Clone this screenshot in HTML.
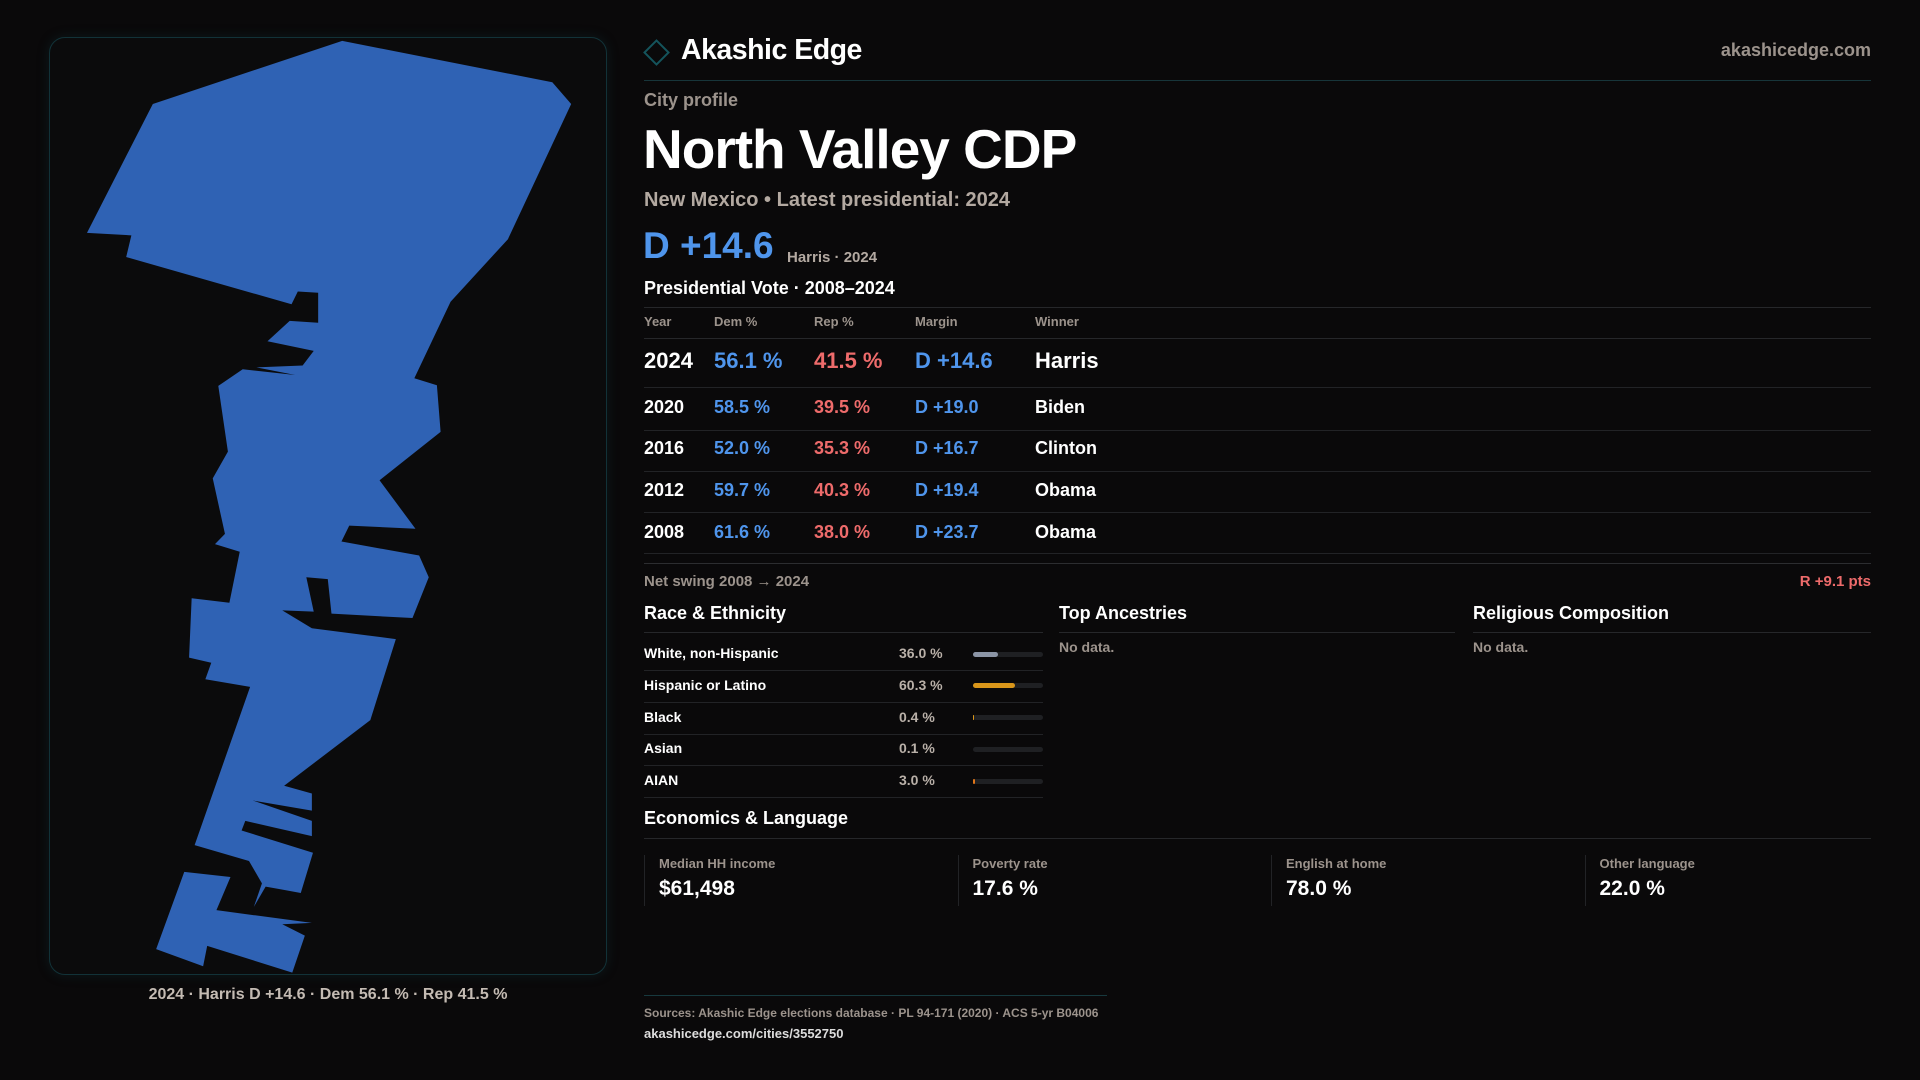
<!DOCTYPE html>
<html><head><meta charset="utf-8"><style>
*{margin:0;padding:0;box-sizing:border-box}
body{width:1920px;height:1080px;background:#0a090a;font-family:"Liberation Sans",sans-serif;color:#fff;position:relative;overflow:hidden}
.a{position:absolute;white-space:nowrap}
.hl{position:absolute;height:1px;background:#26272a}
.g{color:#9c938c}
.b{color:#4f95ec}.r{color:#ee6b6b}
</style></head><body>
<div class="a" style="left:49px;top:37px;width:558px;height:938px;border:1px solid #123238;border-radius:16px;background:#0b0b0c;box-shadow:0 0 12px rgba(20,70,80,.25)"></div>
<svg class="a" style="left:0;top:0" width="660" height="1000">
<g transform="translate(40,30) scale(0.3699,0.6378)" fill="#2f62b4">
<polygon points="817,17 1385,82 1436,116 1265,328 1110,426 1012,546 1073,557 1083,630 918,706 1015,782 836,777 815,802 1025,824 1051,858 1007,922 788,915 778,861 720,858 740,912 655,910 735,938 962,955 893,1082 660,1185 735,1197 735,1224 575,1208 735,1240 735,1264 555,1240 545,1255 738,1290 705,1353 610,1343 578,1375 600,1338 565,1303 418,1278 568,1030 447,1018 463,992 403,984 410,891 512,898 540,818 473,806 500,790 467,703 508,661 482,558 548,532 690,541 585,529 710,526 740,503 615,488 675,456 752,459 752,412 697,410 680,430 233,356 247,322 127,318 305,116"/>
<polygon points="390,1320 515,1328 477,1380 735,1400 655,1402 716,1420 682,1478 452,1436 441,1468 314,1441"/>
</g></svg>
<div class="a" style="left:49px;width:558px;text-align:center;top:986px;font-size:16px;font-weight:bold;color:#c4bbb3">2024 · Harris D +14.6 · Dem 56.1 % · Rep 41.5 %</div>

<div class="a" style="left:647px;top:43px;width:19px;height:19px;border:2px solid #14545c;transform:rotate(45deg)"></div>
<div class="a" style="left:681px;top:34px;font-size:28.5px;font-weight:bold;letter-spacing:-0.5px">Akashic Edge</div>
<div class="a g" style="right:49px;top:40px;font-size:18px;font-weight:bold">akashicedge.com</div>
<div class="hl" style="left:644px;width:1227px;top:80px;background:#17353a"></div>
<div class="a g" style="left:644px;top:90px;font-size:18px;font-weight:bold">City profile</div>
<div class="a" style="left:643px;top:117px;font-size:55px;font-weight:bold;letter-spacing:-1px">North Valley CDP</div>
<div class="a" style="left:644px;top:189px;font-size:20px;font-weight:bold;color:#b3a9a1">New Mexico • Latest presidential: 2024</div>
<div class="a b" style="left:643px;top:225px;font-size:37px;font-weight:bold">D +14.6</div>
<div class="a" style="left:787px;top:249px;font-size:15px;font-weight:bold;color:#b3a9a1">Harris · 2024</div>
<div class="a" style="left:644px;top:278px;font-size:18px;font-weight:bold">Presidential Vote · 2008–2024</div>
<div class="hl" style="left:644px;width:1227px;top:307px"></div>
<div id="tbl"></div>
<div class="hl" style="left:644px;width:1227px;top:563px;background:#2c2d30"></div>
<div class="a g" style="left:644px;top:573px;font-size:15px;font-weight:bold">Net swing 2008 → 2024</div>
<div class="a r" style="right:49px;top:573px;font-size:15px;font-weight:bold">R +9.1 pts</div>

<div class="a" style="left:644px;top:603px;font-size:18px;font-weight:bold">Race &amp; Ethnicity</div>
<div class="a" style="left:1059px;top:603px;font-size:18px;font-weight:bold">Top Ancestries</div>
<div class="a" style="left:1473px;top:603px;font-size:18px;font-weight:bold">Religious Composition</div>
<div class="hl" style="left:644px;width:399px;top:632px"></div>
<div class="hl" style="left:1059px;width:396px;top:632px"></div>
<div class="hl" style="left:1473px;width:398px;top:632px"></div>
<div class="a g" style="left:1059px;top:639px;font-size:14px;font-weight:bold">No data.</div>
<div class="a g" style="left:1473px;top:639px;font-size:14px;font-weight:bold">No data.</div>
<div id="race"></div>

<div class="a" style="left:644px;top:808px;font-size:18px;font-weight:bold">Economics &amp; Language</div>
<div class="hl" style="left:644px;width:1227px;top:838px"></div>
<div id="stats"></div>

<div class="hl" style="left:644px;width:463px;top:995px;background:#17393e"></div>
<div class="a g" style="left:644px;top:1006px;font-size:12px;font-weight:bold">Sources: Akashic Edge elections database · PL 94-171 (2020) · ACS 5-yr B04006</div>
<div class="a" style="left:644px;top:1026px;font-size:13px;font-weight:bold;color:#ddd">akashicedge.com/cities/3552750</div>

<script>
const years=["2024","2020","2016","2012","2008"];
const demPct=[56.1,58.5,52.0,59.7,61.6];
const repPct=[41.5,39.5,35.3,40.3,38.0];
const margins=[14.6,19.0,16.7,19.4,23.7];
const winners=["Harris","Biden","Clinton","Obama","Obama"];
const raceLabels=["White, non-Hispanic","Hispanic or Latino","Black","Asian","AIAN"];
const raceValues=[36.0,60.3,0.4,0.1,3.0];
const statLabels=["Median HH income","Poverty rate","English at home","Other language"];
const statValues=["$61,498","17.6 %","78.0 %","22.0 %"];

function mk(parent,css,text,cls){const d=document.createElement('div');d.className='a '+(cls||'');d.style.cssText=css;if(text!=null)d.textContent=text;parent.appendChild(d);return d;}
const tbl=document.getElementById('tbl');
const cols=[644,714,814,915,1035];
["Year","Dem %","Rep %","Margin","Winner"].forEach((h,i)=>{const e=mk(tbl,`left:${cols[i]}px;top:314px;font-size:13px;font-weight:bold`,h,'g');

});
mk(tbl,'left:644px;width:1227px;top:338px;height:1px;background:#26272a',null);
const rowY=[361,408,449,491,533];
years.forEach((y,i)=>{
  const fs=i===0?22:18,top=rowY[i]-fs*0.6;
  const m=margins[i];
  const vals=[y,demPct[i].toFixed(1)+" %",repPct[i].toFixed(1)+" %",(m>=0?"D +":"R +")+Math.abs(m).toFixed(1),winners[i]];
  const cl=['','b','r','b',''];
  vals.forEach((v,j)=>{const e=mk(tbl,`left:${cols[j]}px;top:${top}px;font-size:${fs}px;font-weight:bold`,v,cl[j]);
  
  });
  const lineY=[387,430,471,512,553][i];
  mk(tbl,`left:644px;width:1227px;top:${lineY}px;height:1px;background:#222326`,null);
});
const race=document.getElementById('race');
const rColors=["#8c95a6","#d9961a","#d9961a","#d9961a","#e0761a"];
raceLabels.forEach((l,i)=>{
  const cy=654+i*31.8;
  const a=mk(race,`left:644px;top:${cy-9}px;font-size:14px;font-weight:bold`,l);
  
  
  const v=mk(race,`left:899px;top:${cy-9}px;font-size:14px;font-weight:bold;color:#b9b0a8`,raceValues[i].toFixed(1)+" %");
  
  
  const t=mk(race,`left:973px;top:${cy-2.5}px;width:70px;height:5px;border-radius:3px;background:#1f2023`,null);
  
  
  const w=Math.max(raceValues[i]/100*70,raceValues[i]>=1?2:0);
  const b=mk(race,`left:973px;top:${cy-2.5}px;width:${w}px;height:5px;border-radius:3px;background:${rColors[i]}`,null);
  
  
  mk(race,`left:644px;width:399px;top:${cy+16}px;height:1px;background:#222326`,null);
});
const st=document.getElementById('stats');
statLabels.forEach((l,i)=>{
  const x=644+i*313.5;
  const box=mk(st,`left:${x}px;top:855px;width:1px;height:51px;background:#222326`,null);
  
  
  const a=mk(st,`left:${x+15}px;top:856px;font-size:13px;font-weight:bold`,l,'g');
  
  
  const v=mk(st,`left:${x+15}px;top:877px;font-size:21px;font-weight:bold`,statValues[i]);
  
  
});
</script>
</body></html>
